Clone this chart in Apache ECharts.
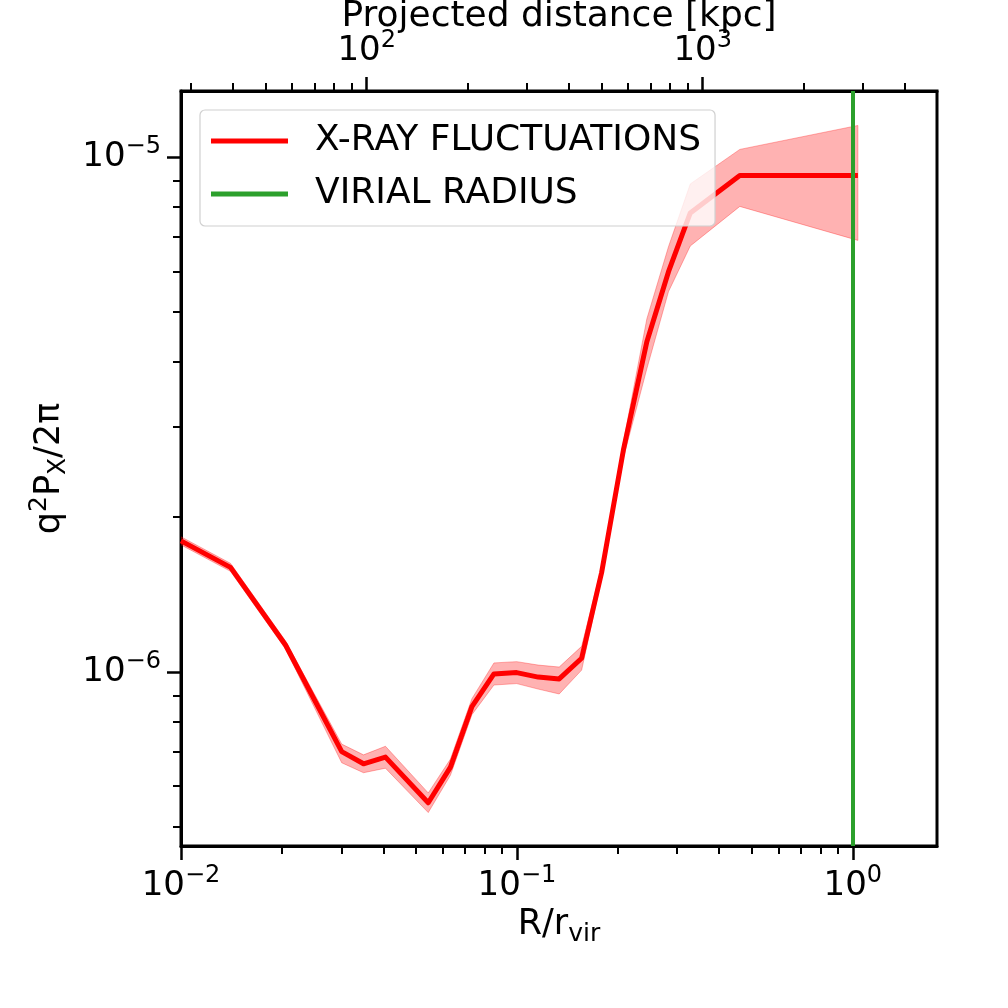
<!DOCTYPE html>
<html>
<head>
<meta charset="utf-8">
<script src="https://cdn.jsdelivr.net/npm/echarts@6/dist/echarts.min.js"></script>
<style>
html,body{margin:0;padding:0;background:#fff;}
#chart{width:1008px;height:1008px;}
</style>
</head>
<body>
<div id="chart"></div>
<script>
// ---- data ----
const rOverRvir = [0.01, 0.01404, 0.02047, 0.03009, 0.03494, 0.04061, 0.05445, 0.0634, 0.07345, 0.08542, 0.0998, 0.1157, 0.1336, 0.1558, 0.1787, 0.2075, 0.2436, 0.2826, 0.3281, 0.4607, 1.035];
const powerMid = [1.797e-6, 1.596e-6, 1.128e-6, 7.00e-7, 6.63e-7, 6.83e-7, 5.57e-7, 6.53e-7, 8.56e-7, 9.91e-7, 9.97e-7, 9.77e-7, 9.69e-7, 1.063e-6, 1.56e-6, 2.70e-6, 4.38e-6, 5.99e-6, 7.79e-6, 9.21e-6, 9.21e-6];
const powerLow = [1.765e-6, 1.568e-6, 1.108e-6, 6.66e-7, 6.37e-7, 6.50e-7, 5.33e-7, 6.30e-7, 8.26e-7, 9.43e-7, 9.49e-7, 9.26e-7, 9.06e-7, 1.008e-6, 1.519e-6, 2.605e-6, 3.88e-6, 5.48e-6, 6.72e-6, 8.02e-6, 6.89e-6];
const powerHigh = [1.830e-6, 1.625e-6, 1.148e-6, 7.24e-7, 6.90e-7, 7.17e-7, 5.82e-7, 6.77e-7, 8.87e-7, 1.041e-6, 1.047e-6, 1.031e-6, 1.022e-6, 1.121e-6, 1.602e-6, 2.80e-6, 4.85e-6, 6.70e-6, 8.87e-6, 1.035e-5, 1.152e-5];
const virialRadius = [1];
const rVirKpc = 2800;

// axis ranges and ticks
const xRange = [0.01, 1.78];
const yRange = [4.59e-7, 1.344e-5];
const xMajor = [0.01, 0.1, 1];
const xMinor = [0.02,0.03,0.04,0.05,0.06,0.07,0.08,0.09,0.2,0.3,0.4,0.5,0.6,0.7,0.8,0.9];
const yMajor = [1e-6, 1e-5];
const yMinor = [5e-7,6e-7,7e-7,8e-7,9e-7,2e-6,3e-6,4e-6,5e-6,6e-6,7e-6,8e-6,9e-6];
const topMajor = [100, 1000];
const topMinor = [30,40,50,60,70,80,90,200,300,400,500,600,700,800,900,2000,3000,4000];
const legendNames = ['X-RAY FLUCTUATIONS', 'VIRIAL RADIUS'];

const FONT = 'DejaVu Sans';
const tickRich = {
  b: {fontFamily: FONT, fontSize: 34, color: '#000', lineHeight: 44},
  sup: {fontFamily: FONT, fontSize: 24, color: '#000', verticalAlign: 'top', lineHeight: 26}
};
function powLabel(v) {
  const e = Math.round(Math.log10(v));
  return '{b|10}{sup|' + String(e).replace('-', '\u2212') + '}';
}
const nameRich = {
  n: {fontFamily: FONT, fontSize: 35, color: '#000', lineHeight: 44},
  sup: {fontFamily: FONT, fontSize: 25, color: '#000', verticalAlign: 'top', lineHeight: 28},
  sub: {fontFamily: FONT, fontSize: 25, color: '#000', verticalAlign: 'bottom', lineHeight: 30}
};

function majorAxis(extra) {
  return Object.assign({
    type: 'log', logBase: 10,
    axisLine: {show: true, onZero: false, lineStyle: {color: '#000', width: 3}},
    axisTick: {show: true, inside: false, length: 14, lineStyle: {color: '#000', width: 2.5}},
    splitLine: {show: false},
    minorTick: {show: false}, minorSplitLine: {show: false}
  }, extra);
}
function minorAxis(extra) {
  return Object.assign({
    type: 'log', logBase: 10,
    axisLine: {show: false, onZero: false},
    axisTick: {show: true, inside: false, length: 8, lineStyle: {color: '#000', width: 2}},
    axisLabel: {show: false},
    splitLine: {show: false}
  }, extra);
}

const chart = echarts.init(document.getElementById('chart'), null, {renderer: 'canvas'});

const bandPoints = rOverRvir.map((x, i) => [x, powerLow[i], powerHigh[i]]);

const option = {
  animation: false,
  backgroundColor: '#fff',
  grid: {left: 181, right: 71, top: 91, bottom: 162, show: true, borderColor: '#000', borderWidth: 3, backgroundColor: 'transparent', containLabel: false, outerBoundsMode: 'none'},
  legend: {
    data: legendNames,
    orient: 'vertical', left: 200, top: 110,
    padding: [11, 14, 12, 11],
    itemGap: 13, itemWidth: 77, itemHeight: 5,
    icon: 'rect',
    backgroundColor: 'rgba(255,255,255,0.8)',
    borderColor: '#d0d0d0', borderWidth: 1.2, borderRadius: 5,
    textStyle: {fontFamily: FONT, fontSize: 36, color: '#000', lineHeight: 40, padding: [0, 0, 0, 22]}
  },
  xAxis: [
    majorAxis({position: 'bottom', min: xRange[0], max: xRange[1],
      axisTick: {show: true, length: 14, customValues: xMajor, lineStyle: {color: '#000', width: 2.5}},
      axisLabel: {show: true, customValues: xMajor, margin: 18, formatter: powLabel, rich: tickRich, fontFamily: FONT},
      name: '{n|R/r}{sub|vir}', nameLocation: 'middle', nameGap: 56, nameTextStyle: {rich: nameRich, fontFamily: FONT}
    }),
    minorAxis({position: 'bottom', min: xRange[0], max: xRange[1],
      axisTick: {show: true, length: 8, customValues: xMinor, lineStyle: {color: '#000', width: 2}}}),
    majorAxis({position: 'top', min: xRange[0] * rVirKpc, max: xRange[1] * rVirKpc,
      axisTick: {show: true, length: 14, customValues: topMajor, lineStyle: {color: '#000', width: 2.5}},
      axisLabel: {show: true, customValues: topMajor, margin: 18, formatter: powLabel, rich: tickRich, fontFamily: FONT},
      name: 'Projected distance [kpc]', nameLocation: 'middle', nameGap: 56, nameMoveOverlap: false,
      nameTextStyle: {fontFamily: FONT, fontSize: 36, color: '#000'}
    }),
    minorAxis({position: 'top', min: xRange[0] * rVirKpc, max: xRange[1] * rVirKpc,
      axisTick: {show: true, length: 8, customValues: topMinor, lineStyle: {color: '#000', width: 2}}})
  ],
  yAxis: [
    majorAxis({position: 'left', min: yRange[0], max: yRange[1],
      axisTick: {show: true, length: 14, customValues: yMajor, lineStyle: {color: '#000', width: 2.5}},
      axisLabel: {show: true, customValues: yMajor, margin: 20, formatter: powLabel, rich: tickRich, fontFamily: FONT},
      name: '{n|q}{sup|2}{n|P}{sub|X}{n|/2π}', nameLocation: 'middle', nameGap: 106, nameRotate: 90,
      nameTextStyle: {rich: nameRich, fontFamily: FONT}
    }),
    minorAxis({position: 'left', min: yRange[0], max: yRange[1],
      axisTick: {show: true, length: 8, customValues: yMinor, lineStyle: {color: '#000', width: 2}}})
  ],
  series: [
    {
      name: 'band', type: 'custom', xAxisIndex: 0, yAxisIndex: 0,
      data: bandPoints, encode: {x: 0, y: [1, 2]}, clip: true, z: 1,
      renderItem: function (params, api) {
        if (params.dataIndex !== 0) return null;
        const upper = bandPoints.map(p => api.coord([p[0], p[2]]));
        const lower = bandPoints.map(p => api.coord([p[0], p[1]])).reverse();
        return {
          type: 'polygon',
          shape: {points: upper.concat(lower)},
          style: {fill: 'rgba(255,0,0,0.3)', stroke: 'rgba(255,0,0,0.3)', lineWidth: 1}
        };
      }
    },
    {
      name: legendNames[0], type: 'line', xAxisIndex: 0, yAxisIndex: 0,
      data: rOverRvir.map((x, i) => [x, powerMid[i]]),
      showSymbol: false, symbol: 'none', clip: true, z: 3,
      itemStyle: {color: '#ff0000'},
      lineStyle: {color: '#ff0000', width: 5, join: 'round'}
    },
    {
      name: legendNames[1], type: 'line', xAxisIndex: 0, yAxisIndex: 0,
      data: [], symbol: 'none', z: 4,
      itemStyle: {color: '#2ca02c'},
      lineStyle: {color: '#2ca02c', width: 4},
      markLine: {
        silent: true, symbol: 'none', animation: false,
        label: {show: false},
        lineStyle: {color: '#2ca02c', width: 4, type: 'solid'},
        data: virialRadius.map(v => ({xAxis: v}))
      }
    }
  ]
};
chart.setOption(option);
</script>
</body>
</html>
